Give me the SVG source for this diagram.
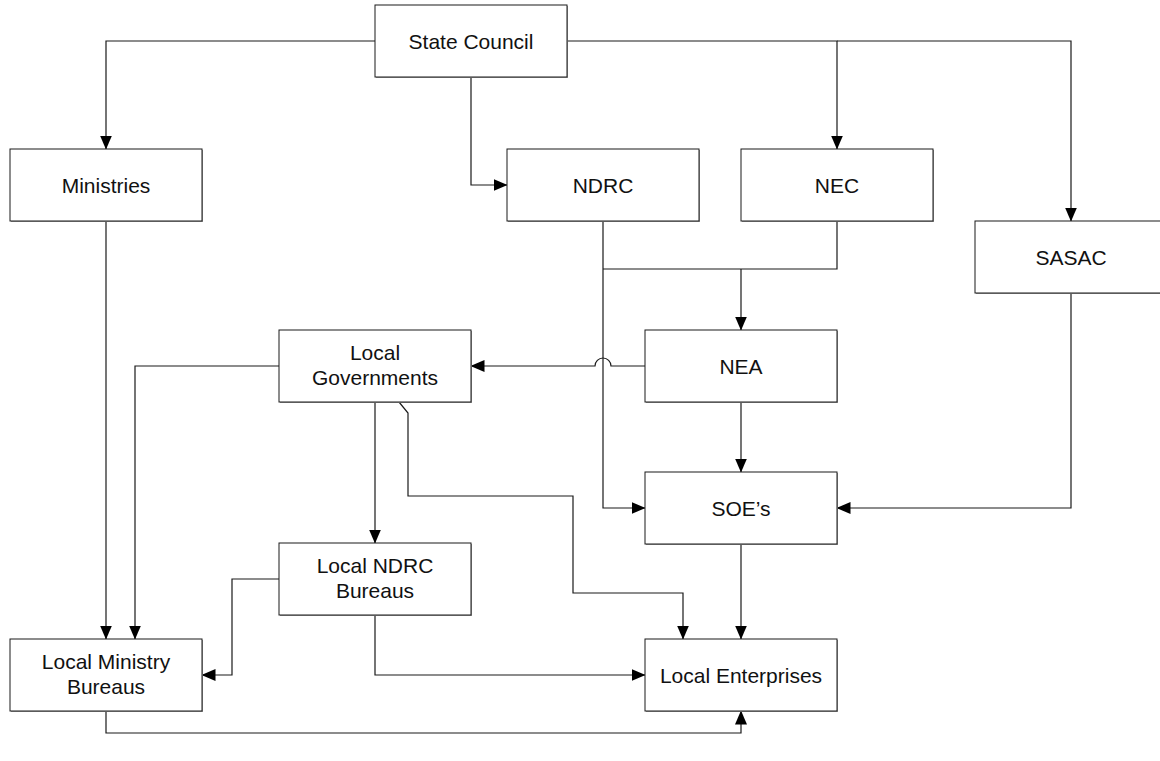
<svg xmlns="http://www.w3.org/2000/svg" width="1160" height="761" viewBox="0 0 1160 761">
<defs>
<style>
.box{fill:#fff;stroke:#1a1a1a;stroke-width:1}
.sh{fill:#9a9a9a}
.t{font-family:"Liberation Sans",Arial,sans-serif;font-size:21px;fill:#111;text-anchor:middle}
.c{fill:none;stroke:#1a1a1a;stroke-width:1.2}
</style>
<marker id="ah" viewBox="0 0 14 12" refX="13.5" refY="6" markerWidth="14" markerHeight="12" markerUnits="userSpaceOnUse" orient="auto">
<path d="M0,0 L14,6 L0,12 z" fill="#000"/>
</marker>
</defs>
<rect width="1160" height="761" fill="#fff"/>
<g id="connectors">
<path class="c" d="M375,41 H106 V149" marker-end="url(#ah)"/>
<path class="c" d="M471,77 V185 H507" marker-end="url(#ah)"/>
<path class="c" d="M567,41 H837 V149" marker-end="url(#ah)"/>
<path class="c" d="M837,41 H1071 V221" marker-end="url(#ah)"/>
<path class="c" d="M837,221 V269 H603"/>
<path class="c" d="M741,269 V330" marker-end="url(#ah)"/>
<path class="c" d="M603,221 V508 H645" marker-end="url(#ah)"/>
<path class="c" d="M645,366 H611 A8,8 0 0 0 595,366 H471" marker-end="url(#ah)"/>
<path class="c" d="M279,366 H135 V639" marker-end="url(#ah)"/>
<path class="c" d="M106,221 V639" marker-end="url(#ah)"/>
<path class="c" d="M375,402 V543" marker-end="url(#ah)"/>
<path class="c" d="M399,402 L408,413 V496 H573 V593 H683 V639" marker-end="url(#ah)"/>
<path class="c" d="M741,402 V472" marker-end="url(#ah)"/>
<path class="c" d="M1071,293 V508 H837" marker-end="url(#ah)"/>
<path class="c" d="M741,544 V639" marker-end="url(#ah)"/>
<path class="c" d="M279,579 H232 V675 H202" marker-end="url(#ah)"/>
<path class="c" d="M375,615 V675 H645" marker-end="url(#ah)"/>
<path class="c" d="M106,711 V733 H741 V711" marker-end="url(#ah)"/>
</g>
<g id="state-council"><rect class="sh" x="376" y="6" width="192" height="72"/><rect class="box" x="375" y="5" width="192" height="72"/><text class="t" x="471" y="49">State Council</text></g>
<g id="ministries"><rect class="sh" x="11" y="150" width="192" height="72"/><rect class="box" x="10" y="149" width="192" height="72"/><text class="t" x="106" y="193">Ministries</text></g>
<g id="ndrc"><rect class="sh" x="508" y="150" width="192" height="72"/><rect class="box" x="507" y="149" width="192" height="72"/><text class="t" x="603" y="193">NDRC</text></g>
<g id="nec"><rect class="sh" x="742" y="150" width="192" height="72"/><rect class="box" x="741" y="149" width="192" height="72"/><text class="t" x="837" y="193">NEC</text></g>
<g id="sasac"><rect class="sh" x="976" y="222" width="192" height="72"/><rect class="box" x="975" y="221" width="192" height="72"/><text class="t" x="1071" y="265">SASAC</text></g>
<g id="local-governments"><rect class="sh" x="280" y="331" width="192" height="72"/><rect class="box" x="279" y="330" width="192" height="72"/><text class="t" x="375" y="360">Local</text><text class="t" x="375" y="385">Governments</text></g>
<g id="nea"><rect class="sh" x="646" y="331" width="192" height="72"/><rect class="box" x="645" y="330" width="192" height="72"/><text class="t" x="741" y="374">NEA</text></g>
<g id="soes"><rect class="sh" x="646" y="473" width="192" height="72"/><rect class="box" x="645" y="472" width="192" height="72"/><text class="t" x="741" y="516">SOE’s</text></g>
<g id="local-ndrc-bureaus"><rect class="sh" x="280" y="544" width="192" height="72"/><rect class="box" x="279" y="543" width="192" height="72"/><text class="t" x="375" y="573">Local NDRC</text><text class="t" x="375" y="598">Bureaus</text></g>
<g id="local-ministry-bureaus"><rect class="sh" x="11" y="640" width="192" height="72"/><rect class="box" x="10" y="639" width="192" height="72"/><text class="t" x="106" y="669">Local Ministry</text><text class="t" x="106" y="694">Bureaus</text></g>
<g id="local-enterprises"><rect class="sh" x="646" y="640" width="192" height="72"/><rect class="box" x="645" y="639" width="192" height="72"/><text class="t" x="741" y="683">Local Enterprises</text></g>
</svg>
